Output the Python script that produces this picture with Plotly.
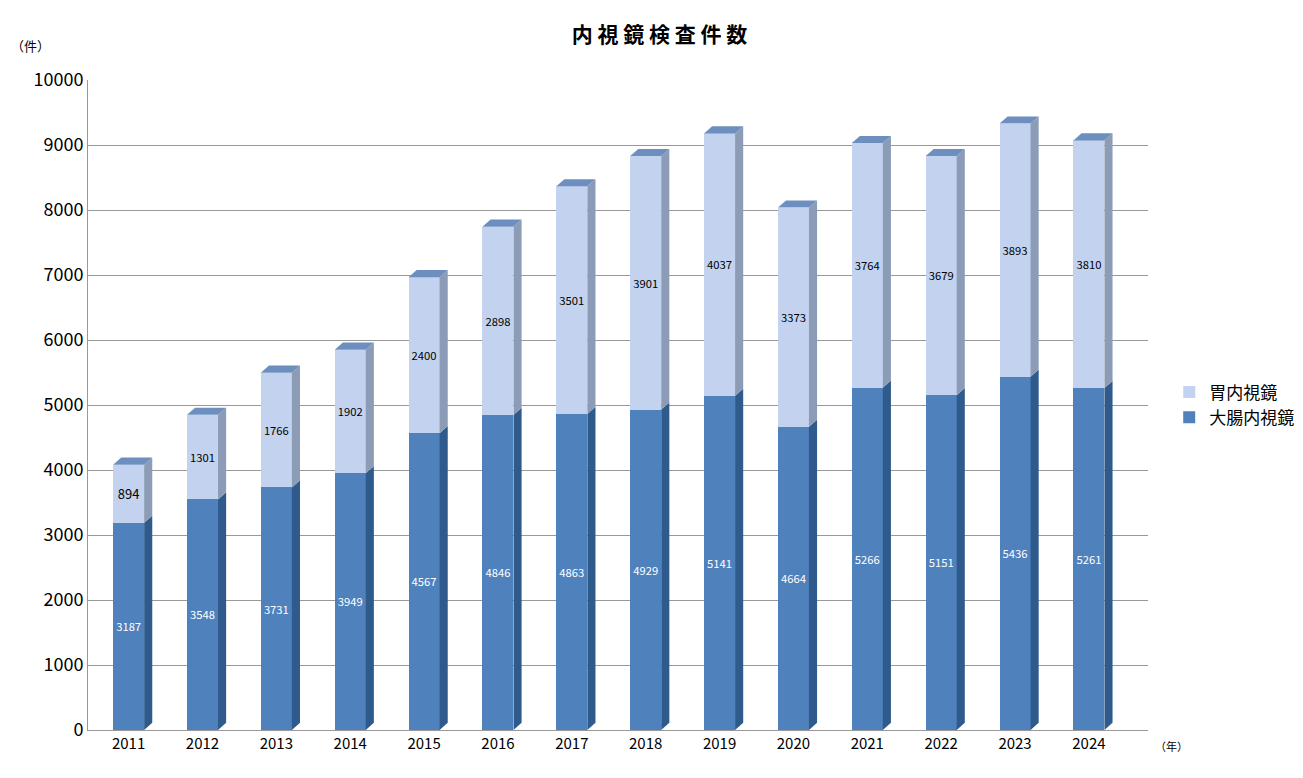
import plotly.graph_objects as go

years = ["2011","2012","2013","2014","2015","2016","2017","2018","2019","2020","2021","2022","2023","2024"]
colon = [3187,3548,3731,3949,4567,4846,4863,4929,5141,4664,5266,5151,5436,5261]
stomach = [894,1301,1766,1902,2400,2898,3501,3901,4037,3373,3764,3679,3893,3810]

x = list(range(len(years)))
W = 0.42
DX, DY = 0.11, 110

fig = go.Figure()
fig.add_bar(x=x, y=colon, name="大腸内視鏡", width=W, marker=dict(color="#4f81bd", line=dict(width=0)),
            text=colon, textposition="inside", insidetextanchor="middle", textangle=0,
            textfont=dict(color="white", size=13), legendrank=2)
fig.add_bar(x=x, y=stomach, name="胃内視鏡", width=W, marker=dict(color="#c3d3ef", line=dict(width=0)),
            text=stomach, textposition="inside", insidetextanchor="middle", textangle=0,
            textfont=dict(color="black", size=13), legendrank=1)

shapes = []
for i in x:
    x1 = i + W/2
    x0 = i - W/2
    segs = [(0, colon[i], "#2f5a8c"), (colon[i], colon[i]+stomach[i], "#8c9cb6")]
    for y0, y1, c in segs:
        shapes.append(dict(type="path", xref="x", yref="y", line=dict(width=0), fillcolor=c, layer="above",
                           path=f"M {x1},{y0} L {x1+DX},{y0+DY} L {x1+DX},{y1+DY} L {x1},{y1} Z"))
    t = colon[i]+stomach[i]
    shapes.append(dict(type="path", xref="x", yref="y", line=dict(width=0), fillcolor="#6d8fbf", layer="above",
                       path=f"M {x0},{t} L {x0+DX},{t+DY} L {x1+DX},{t+DY} L {x1},{t} Z"))

fig.update_layout(
    width=1303, height=778, barmode="stack", plot_bgcolor="white", paper_bgcolor="white",
    font=dict(family="Noto Sans CJK JP", color="black"),
    title=dict(text="内 視 鏡 検 査 件 数", x=0.5, xanchor="center", y=0.975, font=dict(size=21, color="black", weight="bold")),
    margin=dict(l=80, r=163, t=72, b=56),
    shapes=shapes,
    legend=dict(x=1.02, y=0.5, yanchor="middle", font=dict(size=17), traceorder="normal"),
    xaxis=dict(tickvals=x, ticktext=years, range=[-0.55, 13.8], showgrid=False, showline=True,
               linecolor="#999", tickfont=dict(size=15)),
    yaxis=dict(range=[0, 10000], dtick=1000, tickformat="d", showgrid=True, gridcolor="#999", showline=True,
               linecolor="#999", tickfont=dict(size=18), zeroline=False),
    annotations=[
        dict(text="（件）", xref="paper", yref="paper", x=-0.075, y=1.07, showarrow=False, font=dict(size=13)),
        dict(text="（年）", xref="paper", yref="paper", x=1.04, y=-0.04, showarrow=False, font=dict(size=11)),
    ],
)
fig.write_html("out.html")
